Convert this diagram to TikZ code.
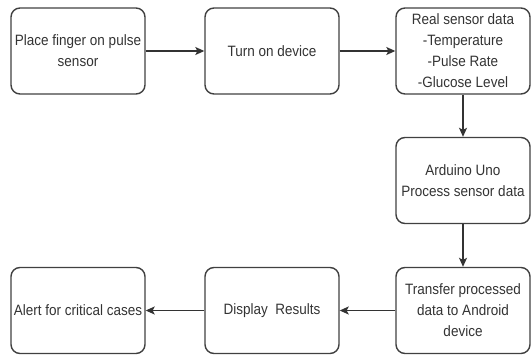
\documentclass[tikz,border=0pt]{standalone}
\usepackage{fontspec}
\setmainfont{Liberation Sans}[FakeStretch=0.9]
\usetikzlibrary{arrows.meta}

\begin{document}
\begin{tikzpicture}[x=1pt,y=-1pt,
  box/.style={draw=black!75,line width=1.4pt,rounded corners=9pt,minimum width=134pt,
    minimum height=86pt,inner sep=1pt,align=center,text=black!80,
    font=\fontsize{15}{21}\selectfont},
  arr/.style={->,>={Stealth[length=9pt,width=8pt,inset=2pt]},draw=black!80,line width=1.2pt}]
  \useasboundingbox (0,0) rectangle (532,358);

  % top row
  \node[box] (place) at (78,51) {Place finger on pulse\\sensor};
  \node[box] (turnon) at (272,51) {Turn on device};
  \node[box] (sensors) at (463,51) {Real sensor data\\-Temperature\\-Pulse Rate\\-Glucose Level};

  % middle
  \node[box] (arduino) at (463,180.5) {Arduino Uno\\Process sensor data};

  % bottom row
  \node[box] (transfer) at (463,310.5) {Transfer processed\\data to Android\\device};
  \node[box] (display) at (272,310.5) {Display\ \ Results};
  \node[box] (alert) at (78,310.5) {Alert for critical cases};

  \draw[arr] (place) -- (turnon);
  \draw[arr] (turnon) -- (sensors);
  \draw[arr] (sensors) -- (arduino);
  \draw[arr] (arduino) -- (transfer);
  \draw[arr] (transfer) -- (display);
  \draw[arr] (display) -- (alert);
\end{tikzpicture}
\end{document}
